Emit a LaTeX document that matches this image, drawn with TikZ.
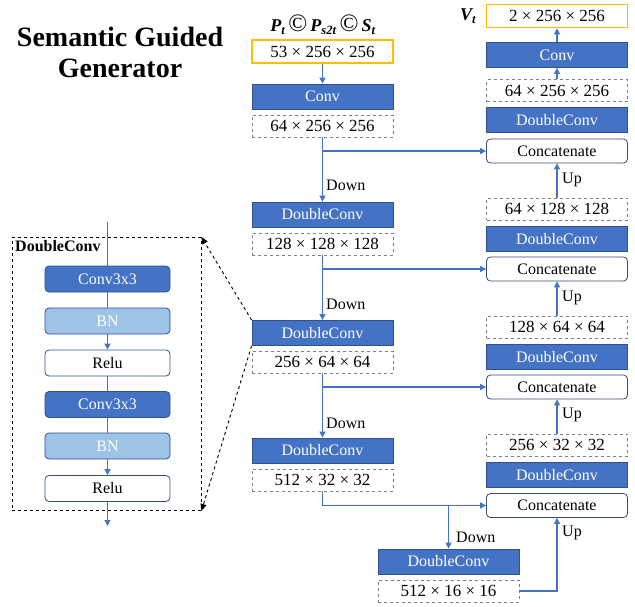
\documentclass[tikz,border=0pt]{standalone}
\usepackage{fontspec}
\setmainfont{Liberation Serif}
\usetikzlibrary{arrows.meta}
\definecolor{cblue}{HTML}{4472C4}
\definecolor{cdark}{HTML}{2F528F}
\definecolor{clight}{HTML}{9DC3E6}
\definecolor{corange}{HTML}{FFC000}
\definecolor{cgray}{HTML}{7F7F7F}
\definecolor{cnavy}{HTML}{3A4A7A}
\begin{document}
\begin{tikzpicture}[x=1pt,y=-1pt,
  base/.style={minimum width=141pt, inner sep=0pt, font=\fontsize{16}{18}\selectfont},
  blk/.style={base, draw=cdark, line width=0.8pt, fill=cblue, text=white, minimum height=25pt},
  dim/.style={base, draw=cgray, dashed, line width=0.8pt, fill=white, minimum height=22pt, font=\fontsize{17}{18}\selectfont},
  io/.style={base, draw=corange, line width=1.6pt, fill=white, minimum height=23pt, font=\fontsize{17}{18}\selectfont},
  cat/.style={base, draw=cnavy, line width=0.8pt, fill=white, rounded corners=4pt, minimum height=24pt},
  sblk/.style={minimum width=125pt, minimum height=26pt, inner sep=0pt, rounded corners=4pt, line width=0.8pt, font=\fontsize{16}{18}\selectfont},
  iconv/.style={sblk, draw=cdark, fill=cblue, text=white},
  ibn/.style={sblk, draw=cdark, fill=clight, text=white},
  irelu/.style={sblk, draw=cdark, fill=white, text=black},
  ln/.style={draw=cblue, line width=1.2pt},
  arr/.style={ln, -{Triangle[length=6pt,width=6pt]}},
  lbl/.style={anchor=west, inner sep=0pt, font=\fontsize{16}{18}\selectfont},
  zoomarr/.style={draw=black, dashed, line width=0.9pt, -{Triangle[length=7pt,width=6pt]}}
]
\useasboundingbox (0,0) rectangle (635,606);

% title
\node[font=\fontsize{28}{31}\selectfont\bfseries, align=center] (title) at (120,52) {Semantic Guided\\Generator};

% left column
\node[io] (in) at (322.5,51.5) {53 × 256 × 256};
\node[font=\fontsize{18}{20}\selectfont\bfseries\itshape, inner sep=0pt] (inlbl) at (323,25) {P\textsubscript{t}\,{\fontsize{25}{25}\selectfont\upshape\mdseries ©}\,P\textsubscript{s2t}\,{\fontsize{25}{25}\selectfont\upshape\mdseries ©}\,S\textsubscript{t}};
\node[blk] (c1) at (322.5,96.5) {Conv};
\node[dim] (d1) at (322.5,126) {64 × 256 × 256};
\node[blk] (dc1) at (322.5,214.5) {DoubleConv};
\node[dim] (d2) at (322.5,244) {128 × 128 × 128};
\node[blk] (dc2) at (322.5,333) {DoubleConv};
\node[dim] (d3) at (322.5,362) {256 × 64 × 64};
\node[blk] (dc3) at (322.5,450.5) {DoubleConv};
\node[dim] (d4) at (322.5,480) {512 × 32 × 32};
\node[blk] (dc4) at (448.5,561.5) {DoubleConv};
\node[dim] (d5) at (448.5,591) {512 × 16 × 16};

% right column
\node[io] (out) at (557,16) {2 × 256 × 256};
\node[font=\fontsize{18}{20}\selectfont\bfseries\itshape, inner sep=0pt] (outlbl) at (468,16) {V\textsubscript{t}};
\node[blk] (rc) at (557,55) {Conv};
\node[dim] (r1) at (557,90.5) {64 × 256 × 256};
\node[blk] (rdc1) at (557,120) {DoubleConv};
\node[cat] (cat1) at (557,151) {Concatenate};
\node[dim] (r2) at (557,209) {64 × 128 × 128};
\node[blk] (rdc2) at (557,239) {DoubleConv};
\node[cat] (cat2) at (557,269) {Concatenate};
\node[dim] (r3) at (557,327) {128 × 64 × 64};
\node[blk] (rdc3) at (557,357) {DoubleConv};
\node[cat] (cat3) at (557,387) {Concatenate};
\node[dim] (r4) at (557,445) {256 × 32 × 32};
\node[blk] (rdc4) at (557,475) {DoubleConv};
\node[cat] (cat4) at (557,505.5) {Concatenate};

% left connectors
\draw[arr] (in) -- (c1);
\draw[arr] (d1.south) -- (dc1.north);
\draw[arr] (d2.south) -- (dc2.north);
\draw[arr] (d3.south) -- (dc3.north);
\coordinate (b1) at (322.5,151);
\coordinate (b2) at (322.5,269);
\coordinate (b3) at (322.5,387);
\draw[arr] (b1) -- (b1 -| cat1.west);
\draw[arr] (b2) -- (b2 -| cat2.west);
\draw[arr] (b3) -- (b3 -| cat3.west);
\draw[arr] (d4.south) |- (cat4.west);
\coordinate (b4) at (448.5,505.5);
\draw[arr] (b4) -- (dc4.north);
\draw[arr] (d5.east) -| (cat4.south);

\node[lbl] (dn1) at (326,185) {Down};
\node[lbl] (dn2) at (326,304) {Down};
\node[lbl] (dn3) at (326,423) {Down};
\node[lbl] (dn4) at (456,537) {Down};

% right connectors
\draw[arr] (r1.north) -- (rc.south);
\draw[arr] (rc.north) -- (out.south);
\draw[arr] (r2.north) -- (cat1.south);
\draw[arr] (r3.north) -- (cat2.south);
\draw[arr] (r4.north) -- (cat3.south);

\node[lbl] (up1) at (562,180) {Up};
\node[lbl] (up2) at (562,298) {Up};
\node[lbl] (up3) at (562,415) {Up};
\node[lbl] (up4) at (562,533) {Up};

% inset
\node[draw=black, dashed, line width=0.9pt, minimum width=189pt, minimum height=273pt, inner sep=0pt] (inset) at (106.5,374) {};
\node[font=\fontsize{16}{18}\selectfont\bfseries, anchor=north west, inner sep=0pt] (insetlbl) at (15,240) {DoubleConv};
\node[iconv] (ic1) at (107.5,279) {Conv3x3};
\node[ibn] (ib1) at (107.5,321) {BN};
\node[irelu] (ir1) at (107.5,363) {Relu};
\node[iconv] (ic2) at (107.5,404.5) {Conv3x3};
\node[ibn] (ib2) at (107.5,446) {BN};
\node[irelu] (ir2) at (107.5,488.5) {Relu};
\coordinate (itop) at (107.5,222);
\coordinate (ibot) at (107.5,526);
\draw[ln] (itop) -- (ic1.north);
\draw[ln] (ic1.south) -- (ib1.north);
\draw[arr] (ib1.south) -- (ir1.north);
\draw[ln] (ir1.south) -- (ic2.north);
\draw[ln] (ic2.south) -- (ib2.north);
\draw[arr] (ib2.south) -- (ir2.north);
\draw[arr] (ir2.south) -- (ibot);

\draw[zoomarr] (dc2.north west) -- (inset.north east);
\draw[zoomarr] (dc2.south west) -- (inset.south east);
\end{tikzpicture}
\end{document}
